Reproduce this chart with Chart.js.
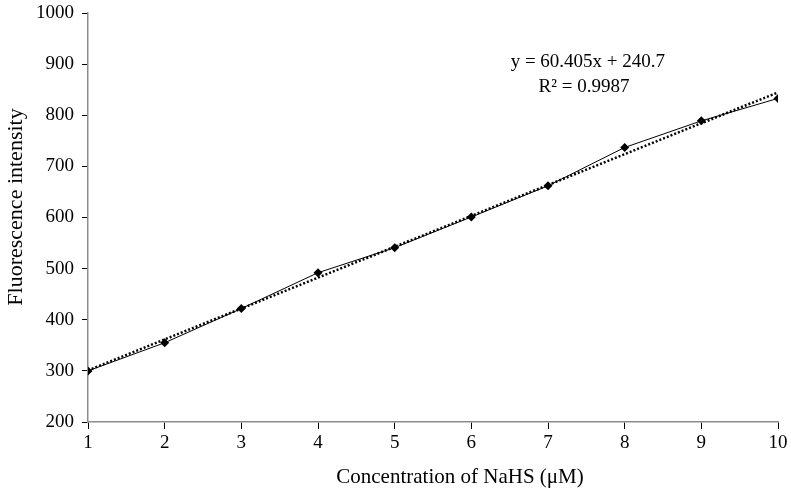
<!DOCTYPE html>
<html>
<head>
<meta charset="utf-8">
<script src="https://cdn.jsdelivr.net/npm/chart.js@4/dist/chart.umd.min.js"></script>
<style>
  html, body { margin: 0; padding: 0; background: #fff; }
  #wrap { width: 791px; height: 494px; }
</style>
</head>
<body>
<div id="wrap"><canvas id="lineChart" width="791" height="494"></canvas></div>
<script>
const concentrations = [1, 2, 3, 4, 5, 6, 7, 8, 9, 10];
const intensity = [300, 355, 422, 492, 541, 601, 662, 737, 789, 833];
const yTicks = [200, 300, 400, 500, 600, 700, 800, 900, 1000];
const slope = 60.405;
const intercept = 240.7;
const equationLines = ['y = 60.405x + 240.7', 'R\u00B2 = 0.9987'];
const xTitle = 'Concentration of NaHS (\u03BCM)';
const yTitle = 'Fluorescence intensity';

const fitX = [concentrations[0], concentrations[concentrations.length - 1]];
const fitPoints = fitX.map(x => ({ x: x, y: slope * x + intercept }));
const dataPoints = concentrations.map((x, i) => ({ x: x, y: intensity[i] }));

const FONT = '"Liberation Serif", "DejaVu Serif", serif';

// equation text and axis titles (titles sit a bit off the axis centre in the original)
const textLayer = {
    id: 'textLayer',
    afterDraw(chart) {
        const ctx = chart.ctx;
        const xs = chart.scales.x, ys = chart.scales.y;
        ctx.save();
        ctx.fillStyle = '#000';
        ctx.textAlign = 'center';
        ctx.textBaseline = 'middle';
        ctx.font = '19px ' + FONT;
        ctx.fillText(equationLines[0], xs.getPixelForValue(7.52), ys.getPixelForValue(904));
        ctx.fillText(equationLines[1], xs.getPixelForValue(7.47), ys.getPixelForValue(855));

        ctx.font = '21px ' + FONT;
        ctx.fillText(xTitle, 460, 477);

        ctx.font = '22px ' + FONT;
        ctx.translate(16, 207);
        ctx.rotate(-Math.PI / 2);
        ctx.fillText(yTitle, 0, 0);
        ctx.restore();
    }
};

const ctx = document.getElementById('lineChart').getContext('2d');
new Chart(ctx, {
    type: 'scatter',
    data: {
        datasets: [{
            label: 'Fluorescence',
            data: dataPoints,
            showLine: true,
            borderColor: '#000',
            borderWidth: 1,
            backgroundColor: '#000',
            pointStyle: 'rectRot',
            pointRadius: 4.5,
            pointBorderWidth: 0,
            order: 1
        }, {
            label: 'Linear fit',
            data: fitPoints,
            showLine: true,
            borderColor: '#000',
            borderWidth: 2.5,
            borderDash: [2, 2],
            pointRadius: 0,
            order: 2
        }]
    },
    options: {
        responsive: false,
        animation: false,
        layout: { padding: { top: 13, right: 13, left: 0, bottom: 0 } },
        plugins: {
            legend: { display: false },
            tooltip: { enabled: false }
        },
        scales: {
            x: {
                type: 'linear',
                min: 1,
                max: 10,
                afterFit(scale) {
                    scale.height = 72;
                    scale.paddingLeft = 0;
                    scale.paddingRight = 0;
                },
                ticks: {
                    stepSize: 1,
                    color: '#000',
                    font: { family: FONT, size: 19 },
                    padding: 3
                },
                grid: {
                    drawOnChartArea: false,
                    drawTicks: true,
                    tickLength: 7,
                    color: '#000'
                },
                border: { color: '#8c8c8c', width: 1.5 }
            },
            y: {
                min: 200,
                max: 1000,
                afterFit(scale) {
                    scale.width = 88;
                    scale.paddingTop = 0;
                    scale.paddingBottom = 0;
                },
                afterBuildTicks(scale) { scale.ticks = yTicks.map(v => ({ value: v })); },
                ticks: {
                    color: '#000',
                    font: { family: FONT, size: 19 },
                    padding: 8,
                    callback: v => String(v)
                },
                grid: {
                    drawOnChartArea: false,
                    drawTicks: true,
                    tickLength: 6,
                    color: '#000'
                },
                border: { color: '#8c8c8c', width: 1.5 }
            }
        }
    },
    plugins: [textLayer]
});
</script>
</body>
</html>
